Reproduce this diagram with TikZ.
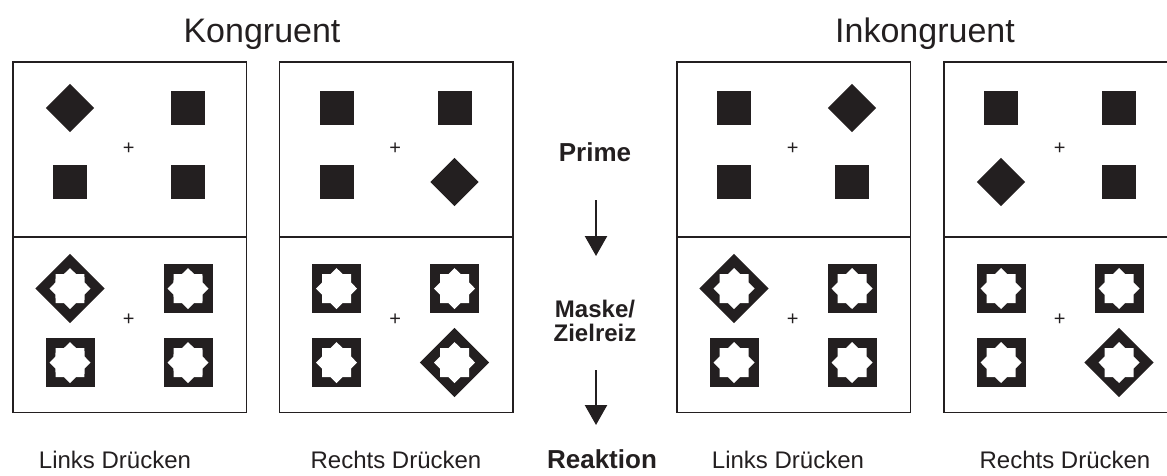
\documentclass[tikz,border=0pt]{standalone}
\usepackage{fontspec}
\setmainfont{Liberation Sans}
\usetikzlibrary{arrows.meta}
\definecolor{ink}{HTML}{231F20}
\begin{document}
\begin{tikzpicture}[x=1pt,y=-1pt,
  panel/.style={draw=ink,line width=1.6pt,minimum width=233.5pt,minimum height=175pt,inner sep=0pt,anchor=north west},
  sq/.style={fill=ink,minimum size=34pt,inner sep=0pt},
  dia/.style={sq,rotate=45},
  fix/.style={font=\fontsize{20}{20}\selectfont,text=ink,inner sep=0pt},
  title/.style={font=\fontsize{34}{40}\selectfont,text=ink,anchor=base},
  lab/.style={font=\fontsize{24}{28}\selectfont,text=ink,anchor=base},
  mid/.style={font=\bfseries\fontsize{24}{24}\selectfont,text=ink,anchor=base},
  midbig/.style={mid,font=\bfseries\fontsize{26}{26}\selectfont},
  arr/.style={draw=ink,line width=2.4pt,-{Triangle[width=22pt,length=20pt]}},
  pics/mask/.style={code={
    \fill[ink] (-24.5,-24.5) rectangle (24.5,24.5);
    \fill[white] (0:20.5) -- (22.5:15.7) -- (45:20.5) -- (67.5:15.7) -- (90:20.5) -- (112.5:15.7)
      -- (135:20.5) -- (157.5:15.7) -- (180:20.5) -- (202.5:15.7) -- (225:20.5) -- (247.5:15.7)
      -- (270:20.5) -- (292.5:15.7) -- (315:20.5) -- (337.5:15.7) -- cycle;
  }}
]
\useasboundingbox (0,0) rectangle (1167,475);
% titles
\node[title] (kon) at (262,42) {Kongruent};
\node[title] (ink) at (925,42) {Inkongruent};
% panels
\foreach \i/\x in {1/12,2/278.5,3/676,4/943}{
  \node[panel] (p\i t) at (\x,61) {};
  \node[panel,minimum height=175.5pt] (p\i b) at (\x,236) {};
  \node[fix] (p\i tc) at (\x+116.75,149) {+};
  \node[fix] (p\i bc) at (\x+116.75,320) {+};
}
% prime stimuli (panel 1: TL diamond)
\node[dia] (s1a) at (70,108) {};
\node[sq] (s1b) at (188,108) {};
\node[sq] (s1c) at (70,182) {};
\node[sq] (s1d) at (188,182) {};
% panel 2: BR diamond
\node[sq] (s2a) at (336.5,108) {};
\node[sq] (s2b) at (454.5,108) {};
\node[sq] (s2c) at (336.5,182) {};
\node[dia] (s2d) at (454.5,182) {};
% panel 3: TR diamond
\node[sq] (s3a) at (734,108) {};
\node[dia] (s3b) at (852,108) {};
\node[sq] (s3c) at (734,182) {};
\node[sq] (s3d) at (852,182) {};
% panel 4: BL diamond
\node[sq] (s4a) at (1001,108) {};
\node[sq] (s4b) at (1119,108) {};
\node[dia] (s4c) at (1001,182) {};
\node[sq] (s4d) at (1119,182) {};
% masks
\pic[rotate=45] (m1a) at (70,288.5) {mask};
\pic (m1b) at (188,288.5) {mask};
\pic (m1c) at (70,362.5) {mask};
\pic (m1d) at (188,362.5) {mask};
\pic (m2a) at (336.5,288.5) {mask};
\pic (m2b) at (454.5,288.5) {mask};
\pic (m2c) at (336.5,362.5) {mask};
\pic[rotate=45] (m2d) at (454.5,362.5) {mask};
\pic[rotate=45] (m3a) at (734,288.5) {mask};
\pic (m3b) at (852,288.5) {mask};
\pic (m3c) at (734,362.5) {mask};
\pic (m3d) at (852,362.5) {mask};
\pic (m4a) at (1001,288.5) {mask};
\pic (m4b) at (1119,288.5) {mask};
\pic (m4c) at (1001,362.5) {mask};
\pic[rotate=45] (m4d) at (1119,362.5) {mask};
% middle column
\node[midbig] (prime) at (595,161) {Prime};
\node[mid] (maske) at (595,317) {Maske/};
\node[mid] (ziel) at (595,341) {Zielreiz};
\node[midbig] (reak) at (602,468) {Reaktion};
\coordinate (a1s) at (596,200);
\coordinate (a1e) at (596,256);
\coordinate (a2s) at (596,370);
\coordinate (a2e) at (596,425);
\draw[arr] (a1s) -- (a1e);
\draw[arr] (a2s) -- (a2e);
% bottom labels
\node[lab] (l1) at (115,468) {Links Drücken};
\node[lab] (l2) at (396,468) {Rechts Drücken};
\node[lab] (l3) at (788,468) {Links Drücken};
\node[lab] (l4) at (1065,468) {Rechts Drücken};
\end{tikzpicture}
\end{document}
